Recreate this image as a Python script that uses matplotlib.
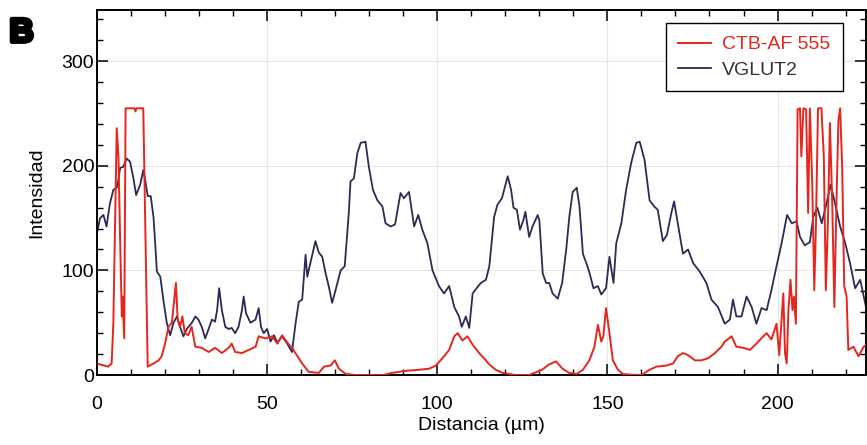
import matplotlib
matplotlib.use("Agg")
import matplotlib.pyplot as plt
import matplotlib.patheffects as pe
from matplotlib.ticker import MultipleLocator

plt.rcParams['font.family'] = ['Liberation Sans', 'DejaVu Sans']

# VGLUT2 profile
vglut_x = [0, 0.9, 1.9, 2.8, 3.8, 4.8, 5.8, 6.3, 6.8, 7.7, 8.7, 9.7, 10.7, 11.5, 12.7,
           13.6, 14.1, 14.9, 15.8, 16.6, 17.1, 17.6, 18.6, 19.5, 20.5, 21.5, 22.5, 23.5,
           24.4, 25.4, 26.4, 27.9, 28.9, 29.8, 30.8, 31.8, 32.8, 33.8, 34.7, 35.3, 35.9,
           36.7, 37.7, 38.7, 39.6, 40.6, 41.6, 42.6, 43.1, 43.8, 45.1, 46.6, 47.5, 48.2,
           49.0, 50.0, 51.0, 52.0, 53.0, 54.4, 55.9, 57.3, 58.3, 59.3, 60.3, 61.3, 61.8,
           62.7, 64.2, 65.2, 66.2, 67.2, 68.1, 69.1, 70.1, 71.6, 72.8, 74.0, 74.5, 75.5,
           76.5, 77.5, 78.9, 79.9, 81.1, 82.4, 83.9, 84.8, 86.3, 87.6, 89.2, 90.2, 91.7,
           93.2, 94.4, 95.6, 97.1, 98.6, 100.5, 102.0, 103.5, 105.0, 106.4, 107.2, 108.4,
           109.4, 110.4, 111.8, 112.8, 114.3, 115.3, 116.7, 117.7, 119.0, 120.7, 121.7,
           122.4, 123.4, 124.3, 125.3, 125.9, 127.0, 128.0, 129.5, 130.0, 131.0, 132.0,
           132.9, 133.9, 135.4, 136.7, 137.9, 138.8, 139.8, 141.0, 141.8, 142.8, 143.8,
           144.8, 145.9, 147.2, 148.2, 149.6, 150.6, 151.8, 152.6, 154.1, 155.5, 157.0,
           158.5, 159.5, 160.9, 162.4, 163.8, 164.8, 166.3, 167.5, 168.8, 169.6, 170.7,
           172.2, 173.7, 175.2, 177.1, 179.1, 180.6, 182.5, 184.5, 186.0, 186.9, 187.9,
           189.4, 190.9, 192.4, 193.8, 195.3, 196.8, 198.2, 199.7, 201.2, 202.8, 204.2,
           205.6, 206.6, 208.0, 209.5, 210.5, 211.7, 213.0, 214.4, 215.6, 216.9, 218.4,
           219.9, 221.3, 222.8, 224.3, 226.2]
vglut_y = [136, 150, 153, 142, 164, 177, 179, 187, 198, 199, 207, 204, 188, 172, 182,
           196, 188, 171, 171, 151, 126, 99, 94, 72, 50, 38, 50, 56,
           46, 37, 44, 50, 56, 53, 46, 35, 44, 53, 51, 62, 83,
           62, 46, 44, 45, 40, 46, 62, 75, 59, 50, 53, 64, 46,
           40, 44, 32, 38, 31, 37, 30, 22, 48, 70, 72, 115, 94,
           107, 128, 117, 113, 97, 85, 69, 81, 100, 104, 155, 185, 188,
           212, 222, 223, 199, 177, 167, 161, 145, 142, 144, 174, 169, 175,
           142, 153, 139, 126, 100, 85, 78, 85, 65, 56, 46, 56,
           45, 78, 84, 88, 91, 104, 151, 163, 169, 190, 177,
           160, 158, 139, 148, 156, 132, 142, 153, 148, 97, 88,
           88, 78, 73, 88, 120, 151, 175, 179, 161, 116, 107,
           97, 83, 85, 77, 83, 113, 88, 126, 145, 177, 203,
           222, 223, 206, 167, 161, 158, 128, 134, 155, 166, 145,
           116, 120, 107, 99, 88, 72, 65, 49, 53, 72, 56,
           56, 75, 65, 49, 64, 62, 81, 104, 126, 153, 145,
           147, 132, 124, 127, 151, 160, 145, 164, 182, 164, 142,
           126, 107, 83, 91, 62]

# CTB-AF 555 profile
ctb_x = [0, 1.0, 3.3, 4.3, 4.8, 5.3, 5.8, 6.3, 6.8, 7.3, 7.5, 8.0, 8.4, 11.0, 11.3,
         11.6, 13.6, 14.1, 14.9, 16.6, 18.1, 19.0, 20.0, 21.0, 22.0, 23.2, 23.7, 24.4,
         25.1, 25.8, 26.8, 27.8, 28.9, 30.8, 32.8, 34.7, 36.7, 38.7, 39.6, 40.6, 42.6,
         44.6, 46.6, 47.5, 49.5, 51.5, 53.0, 54.4, 55.9, 57.3, 58.3, 60.3, 62.2, 65.2,
         66.7, 68.6, 69.9, 71.1, 73.1, 76, 80, 84, 86.8, 90.7, 94.6, 97.6, 99.6, 101.5,
         103.5, 105.0, 106.0, 107.4, 108.9, 110.4, 112.3, 114.3, 115.3, 117.2, 119.2,
         123, 127, 130.8, 132.8, 134.9, 136.8, 138.8, 141, 142.8, 144.7, 146.2, 147.2,
         148.2, 148.8, 149.6, 150.6, 151.6, 153.1, 154.5, 158, 160, 162.4, 164.4, 167.3,
         169.3, 170.7, 172.2, 173.7, 175.7, 177.6, 179.6, 181.6, 183.5, 184.5, 186.5,
         187.9, 189.9, 191.9, 193.8, 195.8, 196.8, 198.2, 199.7, 200.5, 201.2, 201.7,
         202.2, 202.7, 203.2, 203.8, 204.4, 204.8, 205.4, 205.9, 206.6, 207.0, 207.6,
         208.4, 209.0, 209.5, 210.2, 210.8, 211.3, 211.9, 212.9, 213.6, 214.2, 214.8,
         215.4, 216.1, 216.7, 217.4, 217.9, 218.4, 219.0, 219.6, 220.3, 220.8, 222.3,
         223.8, 225.3, 226.4]
ctb_y = [11, 10, 8, 11, 49, 145, 236, 209, 129, 56, 75, 35, 255, 255, 252,
         255, 255, 161, 8, 11, 14, 18, 30, 46, 50, 88, 53, 46,
         56, 40, 38, 46, 27, 26, 22, 26, 21, 26, 30, 22, 21,
         24, 27, 37, 35, 37, 30, 38, 31, 26, 21, 11, 3, 2,
         8, 9, 14, 6, 1, 0, 0, 0, 2, 4, 5, 6, 9, 16,
         24, 37, 40, 33, 37, 29, 21, 14, 10, 5, 2,
         0, 0, 5, 10, 13, 6, 2, 1, 5, 14, 27, 48,
         32, 37, 64, 40, 14, 5, 1, 0, 0, 5, 8, 9,
         11, 18, 21, 19, 14, 14, 16, 21, 27, 32, 37,
         27, 26, 24, 30, 37, 40, 34, 49, 19, 53, 78,
         21, 11, 62, 91, 62, 75, 49, 254, 255, 209, 255,
         254, 155, 255, 183, 81, 145, 255, 255, 209, 81, 145,
         241, 161, 65, 177, 244, 255, 199, 85, 75, 24, 27,
         18, 27, 30]

red = '#e5261c'
navy = '#2e2a55'

fig = plt.figure(figsize=(8.67, 4.45), dpi=100)
ax = fig.add_axes([97 / 867, 70 / 445, 769 / 867, 365 / 445])

ax.grid(True, which='major', color='#e6e6e6', linewidth=0.8)
ax.set_axisbelow(True)

l_vg, = ax.plot(vglut_x, vglut_y, color=navy, linewidth=1.3, zorder=2)
l_ctb, = ax.plot(ctb_x, ctb_y, color=red, linewidth=1.4, zorder=3)

ax.set_xlim(0, 226)
ax.set_ylim(0, 349)
ax.set_xticks([0, 50, 100, 150, 200])
ax.set_yticks([0, 100, 200, 300])
ax.xaxis.set_minor_locator(MultipleLocator(10))
ax.yaxis.set_minor_locator(MultipleLocator(20))
ax.tick_params(which='both', direction='in', top=True, right=True, labelsize=14,
               colors='black')
ax.tick_params(which='major', length=8, width=1.1)
ax.tick_params(which='minor', length=4.5, width=1.0)
ax.tick_params(axis='x', which='major', pad=15)
ax.tick_params(axis='y', which='major', pad=2)
for s in ax.spines.values():
    s.set_linewidth(1.4)

ax.set_xlabel('Distancia (µm)', fontsize=14, labelpad=3)
ax.set_ylabel('Intensidad', fontsize=14, labelpad=12)

leg = ax.legend([l_ctb, l_vg], ['CTB-AF 555', 'VGLUT2'], loc='upper right',
                bbox_to_anchor=(0.970, 0.964), borderaxespad=0, fontsize=14,
                fancybox=False, framealpha=1, edgecolor='black',
                handlelength=1.7, handletextpad=0.55, borderpad=0.65, labelspacing=0.4)
leg.get_frame().set_linewidth(1.0)
leg.get_texts()[0].set_color(red)
leg.get_texts()[1].set_color('#333333')

fig.text(0.011, 0.906, 'B', fontsize=24, fontweight='bold', va='baseline',
         path_effects=[pe.Stroke(linewidth=3, foreground='black'), pe.Normal()])

fig.savefig('out.png', dpi=100)
